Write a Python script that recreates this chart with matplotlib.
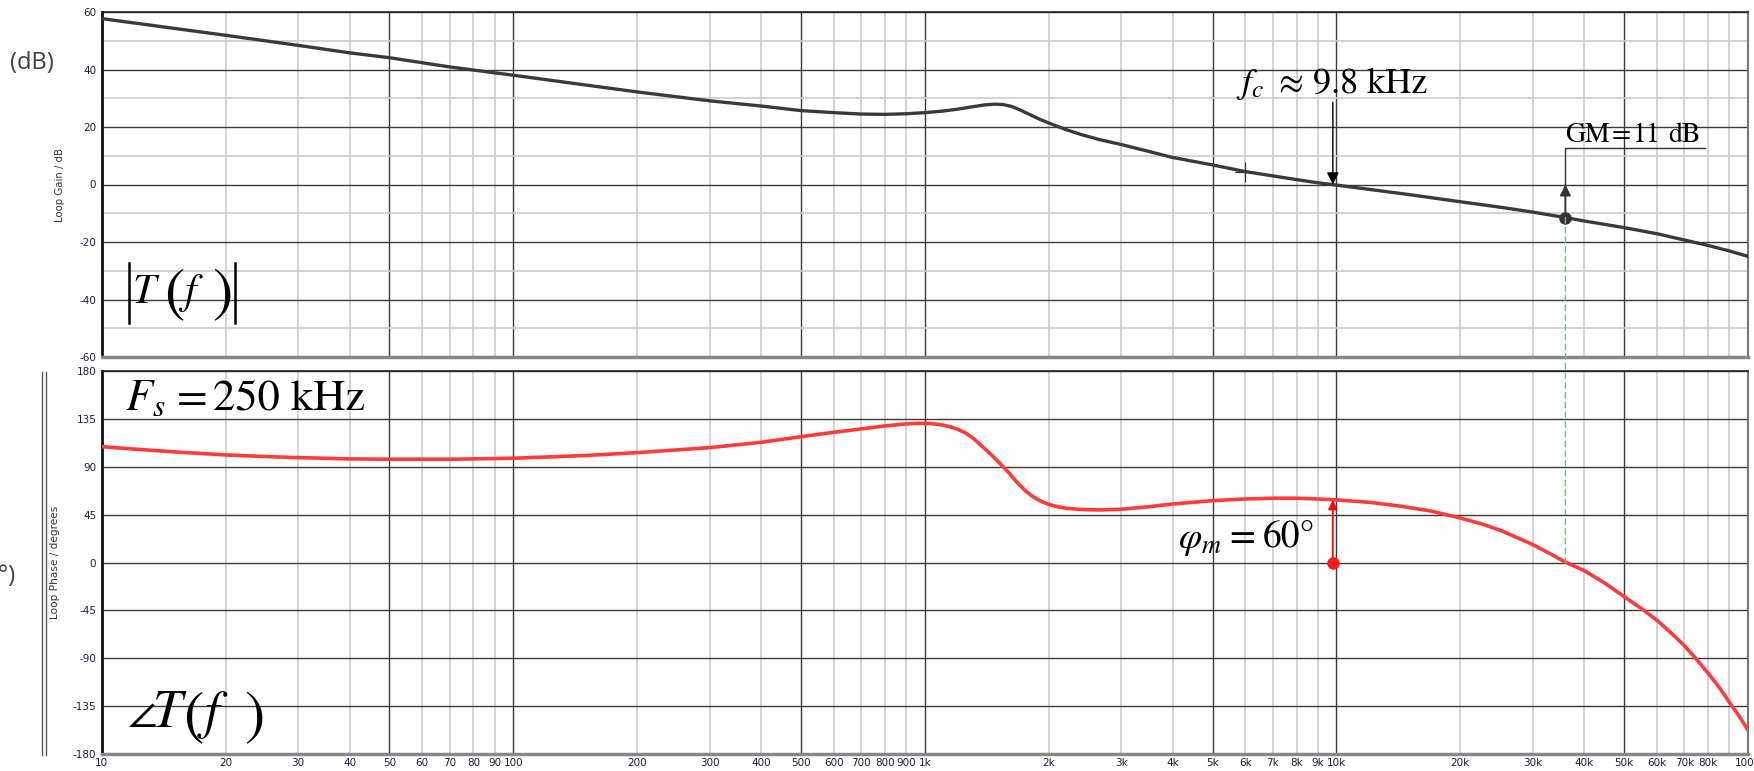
import matplotlib
matplotlib.use("Agg")
import matplotlib.pyplot as plt
from matplotlib.ticker import FixedLocator, FuncFormatter, NullLocator
from matplotlib.patches import ConnectionPatch
from matplotlib.lines import Line2D

plt.rcParams['mathtext.fontset'] = 'stix'
plt.rcParams['axes.unicode_minus'] = False

# ---------------- data ----------------
mag_freq = [10, 15, 20, 30, 40, 50, 70, 100, 150, 200, 300, 400, 500, 600, 700, 800, 900,
            1000, 1100, 1200, 1300, 1400, 1480, 1550, 1620, 1700, 1800, 1900, 2000, 2200,
            2420, 2660, 3000, 3500, 4000, 5000, 6000, 7000, 8000, 9000, 10000, 15000,
            20000, 25000, 30000, 36000, 40000, 45000, 50000, 60000, 70000, 80000, 90000,
            100000]
mag_db = [57.7, 54.3, 51.9, 48.4, 45.8, 44.1, 40.9, 38.0, 34.6, 32.2, 29.1, 27.3, 25.7, 25.0,
          24.5, 24.4, 24.6, 25.0, 25.5, 26.2, 27.0, 27.7, 27.95, 27.8, 27.2, 26.0, 24.3,
          22.7, 21.4, 19.1, 17.2, 15.6, 13.9, 11.5, 9.4, 6.8, 4.5, 3.0, 1.7, 0.6, -0.2,
          -3.5, -6.0, -7.9, -9.6, -11.5, -12.7, -13.9, -15.0, -17.1, -19.3, -21.2, -23.1,
          -25.0]

ph_freq = [10, 12, 15, 20, 25, 30, 40, 50, 70, 100, 150, 200, 300, 400, 500, 600, 700, 800,
           900, 950, 1000, 1050, 1100, 1150, 1200, 1260, 1320, 1380, 1450, 1520, 1600, 1670,
           1750, 1830, 1920, 2000, 2100, 2200, 2400, 2650, 3000, 3500, 4000, 5000, 6000,
           7000, 8000, 9000, 10000, 12000, 14200, 17000, 20000, 22500, 25000, 30000, 33000,
           36000, 40000, 45000, 50000, 55000, 60000, 65000, 70000, 75000, 80000, 85000,
           90000, 95000, 100000]
ph_deg = [109.1, 106.8, 104.2, 101.3, 99.8, 98.8, 97.6, 97.3, 97.3, 98.2, 100.8, 103.5, 108.2,
          113.2, 118.5, 122.6, 125.8, 128.6, 130.5, 131.0, 131.1, 130.6, 129.5, 127.9, 125.5,
          121.7, 116.0, 109.1, 101.5, 93.5, 84.5, 76.0, 68.0, 62.0, 57.5, 54.8, 52.6, 51.2,
          50.0, 49.6, 50.2, 52.6, 55.2, 58.3, 59.9, 60.6, 60.6, 59.9, 59.0, 56.8, 53.3, 48.5,
          42.0, 36.5, 30.5, 17.0, 8.5, 0.5, -7.5, -19.5, -32.0, -43.0, -54.0, -66.0, -78.0,
          -91.0, -104.0, -117.0, -131.0, -144.0, -157.4]

fc = 9800          # crossover frequency
pm = 60            # phase margin
f_gm = 36000       # phase crossover frequency
mag_gm = -11.5     # loop gain at f_gm
cursor_f, cursor_db = 6000, 4.4

x_major = [50, 100, 500, 1000, 5000, 10000, 50000]
x_minor = [10, 20, 30, 40, 60, 70, 80, 90, 200, 300, 400, 600, 700, 800, 900,
           2000, 3000, 4000, 6000, 7000, 8000, 9000, 20000, 30000, 40000, 60000,
           70000, 80000, 90000, 100000]
x_unlabeled = [90000]
mag_ticks = [-60, -40, -20, 0, 20, 40, 60]
mag_minor = [-50, -30, -10, 10, 30, 50]
ph_ticks = [-180, -135, -90, -45, 0, 45, 90, 135, 180]

# ---------------- figure ----------------
W, H = 1754, 771
fig = plt.figure(figsize=(W / 100, H / 100), dpi=100)


def fx(px):
    return px / W


def fy(py):
    return 1 - py / H


AX_L, AX_R = 101.8, 1748
ax1 = fig.add_axes([fx(AX_L), fy(357), fx(AX_R - AX_L), (357 - 12) / H])
ax2 = fig.add_axes([fx(AX_L), fy(754), fx(AX_R - AX_L), (754 - 371.3) / H])

TICK_FAMILY = ['Liberation Sans Narrow', 'DejaVu Sans']


def xlab(v, pos=None):
    if any(abs(v - u) < 1e-6 for u in x_unlabeled):
        return ''
    if v >= 1000:
        return f"{int(round(v / 1000))}k"
    return f"{int(round(v))}"


for ax in (ax1, ax2):
    ax.set_xscale('log')
    ax.set_xlim(10, 100000)
    ax.xaxis.set_major_locator(FixedLocator(x_major))
    ax.xaxis.set_minor_locator(FixedLocator(x_minor))
    ax.xaxis.set_major_formatter(FuncFormatter(xlab))
    ax.xaxis.set_minor_formatter(FuncFormatter(xlab))
    ax.tick_params(which='both', length=0, labelsize=7.5, labelcolor='#1c1c3c')
    ax.tick_params(axis='x', which='both', pad=3)
    ax.tick_params(axis='y', which='both', pad=4)
    ax.grid(which='major', color='#3a3a3a', lw=1.0)
    ax.grid(which='minor', axis='x', color='#cccccc', lw=1.2)
    ax.set_axisbelow(True)
    ax.spines['left'].set_color('#111111')
    ax.spines['left'].set_linewidth(2.0)
    ax.spines['bottom'].set_color('#888888')
    ax.spines['bottom'].set_linewidth(2.5)
    ax.spines['top'].set_color('#222222')
    ax.spines['top'].set_linewidth(1.2)
    ax.spines['right'].set_color('#777777')
    ax.spines['right'].set_linewidth(1.5)

# top: magnitude
ax1.set_ylim(-60, 60)
ax1.yaxis.set_major_locator(FixedLocator(mag_ticks))
ax1.yaxis.set_minor_locator(FixedLocator(mag_minor))
ax1.grid(which='minor', axis='y', color='#cccccc', lw=1.2)
ax1.tick_params(axis='x', which='both', labelbottom=False)
ax1.plot(mag_freq, mag_db, color='#3a3a3a', lw=2.4, solid_capstyle='round',
         solid_joinstyle='round', zorder=3)

# bottom: phase
ax2.set_ylim(-180, 180)
ax2.yaxis.set_major_locator(FixedLocator(ph_ticks))
ax2.yaxis.set_minor_locator(NullLocator())
ax2.plot(ph_freq, ph_deg, color='#ff3b3b', lw=2.6, solid_joinstyle='round', zorder=3)

for lab in (ax1.get_yticklabels() + ax2.get_yticklabels() +
            ax2.get_xticklabels(which='major') + ax2.get_xticklabels(which='minor')):
    lab.set_fontfamily(TICK_FAMILY)

ax1.set_ylabel('Loop Gain / dB', fontsize=7.3, color='#333333', family=TICK_FAMILY)
ax2.set_ylabel('Loop Phase / degrees', fontsize=7.6, color='#333333', family=TICK_FAMILY)
ax1.yaxis.set_label_coords((65 - AX_L) / (AX_R - AX_L), 0.5)
ax2.yaxis.set_label_coords((60 - AX_L) / (AX_R - AX_L), 0.5)

# ---------------- annotations ----------------
STIX = 'STIXGeneral'

# crossover arrow
ax1.annotate('', xy=(fc, 0), xytext=(fc, 28.6),
             arrowprops=dict(arrowstyle='-|>', color='black', lw=1.0,
                             mutation_scale=18, shrinkA=0, shrinkB=0), zorder=5)
fig.text(fx(1236), fy(93), r'$f_c$', fontsize=26, ha='left', va='baseline')
fig.text(fx(1278), fy(93), '\u2248', fontsize=26, family=STIX, ha='left', va='baseline')
fig.text(fx(1313), fy(93), '9.8 kHz', fontsize=26, family=STIX, ha='left', va='baseline')

# cursor mark
ax1.plot([cursor_f], [cursor_db], marker='+', ms=14, mew=0.9, color='#333333', zorder=4)

# gain margin
ax1.annotate('', xy=(f_gm, 0), xytext=(f_gm, mag_gm),
             arrowprops=dict(arrowstyle='-|>', color='#333333', lw=1.4,
                             mutation_scale=16, shrinkA=0, shrinkB=0), zorder=5)
ax1.plot([f_gm, f_gm, 78700], [0, 12.8, 12.8], color='#333333', lw=1.0, zorder=5)
ax1.plot([f_gm], [mag_gm], 'o', color='#333333', ms=8, zorder=6)
fig.text(fx(1565), fy(142), 'GM', fontsize=20, family=STIX, ha='left', va='baseline')
fig.text(fx(1612), fy(142), '=', fontsize=20, family=STIX, ha='left', va='baseline')
fig.text(fx(1633), fy(142), '11', fontsize=20, family=STIX, ha='left', va='baseline')
fig.text(fx(1668), fy(142), 'dB', fontsize=20, family=STIX, ha='left', va='baseline')

con = ConnectionPatch(xyA=(f_gm, mag_gm), coordsA=ax1.transData,
                      xyB=(f_gm, 0), coordsB=ax2.transData,
                      color='#4cd070', lw=1.0, ls=(0, (4, 3)), zorder=2)
fig.add_artist(con)

# phase margin
ax2.annotate('', xy=(fc, pm - 1), xytext=(fc, 0),
             arrowprops=dict(arrowstyle='-|>', color='#ff0000', lw=1.2,
                             mutation_scale=14, shrinkA=0, shrinkB=0), zorder=5)
ax2.plot([fc], [0], 'o', color='#ff1a1a', ms=8, zorder=6)
fig.text(fx(1178), fy(548), r'$\varphi_m$', fontsize=27, ha='left', va='baseline')
fig.text(fx(1229), fy(548), '=', fontsize=27, family=STIX, ha='left', va='baseline')
fig.text(fx(1263), fy(548), '60°', fontsize=27, family=STIX, ha='left', va='baseline')

# |T(f)|
fig.text(fx(133), fy(303), 'T', fontsize=30, family=STIX, style='italic',
         ha='left', va='baseline')
fig.text(fx(164), fy(309), '(', fontsize=44, family=STIX, ha='left', va='baseline')
fig.text(fx(184), fy(303), 'f', fontsize=30, family=STIX, style='italic',
         ha='left', va='baseline')
fig.text(fx(212), fy(309), ')', fontsize=44, family=STIX, ha='left', va='baseline')
for xp in (128.5, 235):
    fig.add_artist(Line2D([fx(xp), fx(xp)], [fy(263), fy(323)], color='black', lw=1.8))

# F_s = 250 kHz
fig.text(fx(125), fy(410), r'$F_s$', fontsize=32, ha='left', va='baseline')
fig.text(fx(177), fy(410), '=', fontsize=32, family=STIX, ha='left', va='baseline')
fig.text(fx(213), fy(410), '250 kHz', fontsize=32, family=STIX, ha='left', va='baseline')

# angle T(f)
fig.text(fx(127), fy(727), '\u2220', fontsize=31, family=STIX, ha='left', va='baseline')
fig.text(fx(153), fy(727), 'T', fontsize=38, family=STIX, style='italic',
         ha='left', va='baseline')
fig.text(fx(183), fy(732), '(', fontsize=44, family=STIX, ha='left', va='baseline')
fig.text(fx(205), fy(728), 'f', fontsize=38, family=STIX, style='italic',
         ha='left', va='baseline')
fig.text(fx(244), fy(732), ')', fontsize=44, family=STIX, ha='left', va='baseline')

# clipped outer labels
fig.text(fx(10), fy(63), '(dB)', fontsize=17, family=['Open Sans', 'DejaVu Sans'],
         color='#404040', ha='left', va='center')
fig.text(fx(15), fy(576), '(°)', fontsize=17, family=['Open Sans', 'DejaVu Sans'],
         color='#404040', ha='right', va='center')
for xp in (42, 46):
    fig.add_artist(Line2D([fx(xp), fx(xp)], [fy(372), fy(755)], color='#555555', lw=1.0))

fig.savefig('out.png', dpi=100)
